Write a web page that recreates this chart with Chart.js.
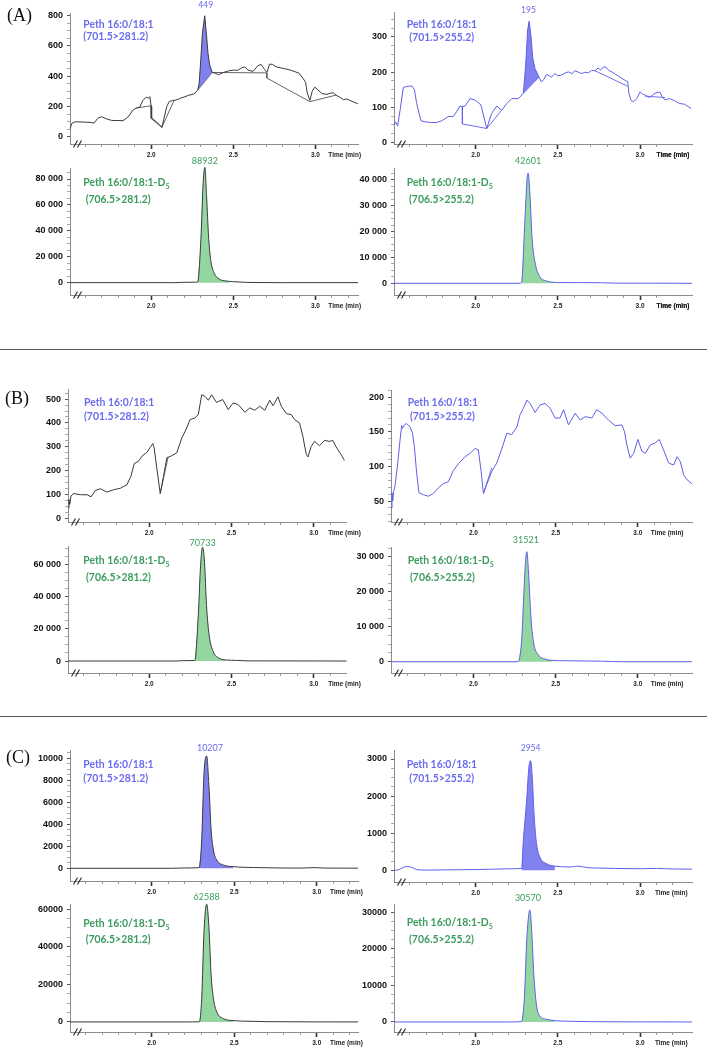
<!DOCTYPE html>
<html><head><meta charset="utf-8">
<script src="https://cdn.jsdelivr.net/npm/chart.js@4.4.0/dist/chart.umd.min.js"></script>
<style>
html,body{margin:0;padding:0;background:#fff;}
#fig{position:relative;width:709px;height:1050px;overflow:hidden;background:#fff;}
#fig canvas{position:absolute;}
.lbl{position:absolute;font-family:Lato,'Open Sans',sans-serif;font-weight:700;font-size:10.4px;white-space:nowrap;line-height:12px;height:12px;}
.lbl sub{font-size:7px;vertical-align:-3px;line-height:0;}
.tag{position:absolute;font-family:'Liberation Serif','DejaVu Serif',serif;font-size:18px;line-height:18px;color:#111;}
.sep{position:absolute;left:0;width:707px;height:0;border-top:1.5px solid #555;}
</style></head>
<body><div id="fig"></div>
<script>
// ---------- DATA (time in min, intensity in counts) ----------
// (A) 701.5>281.2
const aTL_time = [1.507,1.517,1.537,1.587,1.628,1.652,1.678,1.698,1.728,1.759,1.829,1.859,1.889,1.910,1.930,1.950,1.970,1.985,1.992,2.000,2.003,2.030,2.050,2.065,2.080,2.095,2.110,2.130,2.150,2.180,2.200,2.230,2.260,2.283,2.292,2.302,2.312,2.326,2.336,2.346,2.356,2.372,2.390,2.410,2.440,2.470,2.500,2.530,2.550,2.570,2.590,2.620,2.650,2.670,2.690,2.705,2.720,2.740,2.760,2.790,2.820,2.850,2.880,2.900,2.925,2.940,2.950,2.966,2.980,2.995,3.010,3.040,3.070,3.090,3.110,3.125,3.150,3.170,3.190,3.210,3.235,3.258];
const aTL_int  = [55,88,99,97,95,90,125,132,118,108,106,130,176,190,195,240,262,255,265,200,125,100,80,62,130,200,232,240,242,255,262,275,282,308,350,507,683,800,683,551,474,425,420,410,425,435,440,440,455,462,440,432,470,478,445,425,480,478,462,455,448,440,428,420,385,360,290,240,300,328,315,285,280,288,290,275,260,245,250,240,228,218];
const aTL_peakBase_time = [2.283,2.372];
const aTL_peakBase_int  = [308,425];
const aTL_base1_time = [1.910,2.000,2.000,2.065,2.140];
const aTL_base1_int  = [190,205,120,62,242];
const aTL_base2_time = [2.372,2.704,2.704,2.966,3.125];
const aTL_base2_int  = [425,422,388,232,275];
// (A) 701.5>255.2
const aTR_time = [1.505,1.513,1.525,1.540,1.560,1.590,1.611,1.627,1.641,1.667,1.692,1.732,1.763,1.793,1.834,1.864,1.884,1.905,1.919,1.935,1.966,1.996,2.032,2.067,2.097,2.128,2.158,2.189,2.219,2.260,2.290,2.304,2.316,2.325,2.337,2.347,2.361,2.385,2.400,2.415,2.432,2.460,2.483,2.500,2.523,2.545,2.564,2.585,2.604,2.625,2.645,2.665,2.686,2.705,2.726,2.745,2.760,2.775,2.791,2.810,2.828,2.848,2.868,2.890,2.909,2.925,2.932,2.945,2.960,2.980,3.000,3.015,3.030,3.060,3.075,3.090,3.120,3.135,3.152,3.180,3.210,3.240,3.270,3.290,3.310];
const aTR_int  = [50,59,47,92,157,160,161,151,111,62,59,57,57,62,74,74,88,104,102,104,125,121,107,40,83,104,92,111,125,125,140,220,320,345,300,240,210,186,172,180,194,186,196,190,192,198,201,196,204,200,196,200,198,205,204,212,206,214,215,205,201,195,189,182,177,173,140,120,116,125,144,138,135,128,135,140,144,130,121,125,119,111,109,103,97];
const aTR_peakBase_time = [2.290,2.385];
const aTR_peakBase_int  = [140,186];
const aTR_base1_time = [1.919,1.919,2.067,2.158];
const aTR_base1_int  = [102,53,40,92];
const aTR_base2_time = [2.726,2.925];
const aTR_base2_int  = [204,160];
const aTR_base3_time = [3.030,3.152];
const aTR_base3_int  = [132,128];
// (A) D5 internal standard
const aBL_time = [1.506,2.150,2.190,2.270,2.283,2.303,2.317,2.327,2.337,2.350,2.364,2.384,2.414,2.455,2.475,2.495,2.576,2.650,2.800,3.259];
const aBL_int  = [0,0,250,350,400,34300,78200,88932,67900,34300,16260,7200,2800,1300,1000,800,260,100,0,0];
const aBR_time = [1.503,2.270,2.279,2.299,2.313,2.319,2.329,2.343,2.360,2.390,2.430,2.470,2.500,2.650,2.760,2.850,3.316];
const aBR_int  = [0,0,200,23870,40640,42601,35480,17420,8390,2580,900,390,260,250,200,50,0];
// (B)
const bTL_time = [1.509,1.513,1.518,1.525,1.542,1.583,1.623,1.647,1.673,1.704,1.744,1.784,1.825,1.865,1.889,1.909,1.935,1.956,1.986,2.010,2.022,2.030,2.046,2.067,2.087,2.107,2.137,2.167,2.198,2.228,2.248,2.278,2.298,2.319,2.339,2.359,2.379,2.409,2.446,2.480,2.510,2.540,2.581,2.611,2.641,2.671,2.702,2.732,2.752,2.782,2.802,2.833,2.863,2.883,2.913,2.933,2.954,2.964,2.984,3.004,3.034,3.065,3.095,3.115,3.135,3.165,3.185];
const bTL_int  = [45,80,60,95,105,100,100,91,118,125,111,121,127,142,177,230,240,261,277,302,314,296,212,105,177,254,263,275,337,379,414,421,435,518,511,495,518,486,498,456,484,477,445,463,453,470,453,495,472,509,470,439,435,414,400,344,268,258,302,323,305,327,323,327,300,268,244];
const bTL_base_time = [2.067,2.115];
const bTL_base_int  = [105,258];
const bTR_time = [1.500,1.505,1.510,1.515,1.523,1.540,1.554,1.564,1.568,1.580,1.594,1.615,1.629,1.641,1.655,1.669,1.696,1.726,1.757,1.787,1.817,1.848,1.878,1.909,1.949,1.980,2.010,2.030,2.047,2.061,2.081,2.112,2.142,2.172,2.203,2.233,2.264,2.284,2.304,2.325,2.345,2.375,2.406,2.436,2.467,2.497,2.527,2.548,2.578,2.619,2.649,2.680,2.720,2.750,2.781,2.821,2.862,2.903,2.919,2.933,2.953,2.974,3.000,3.024,3.045,3.075,3.105,3.130,3.156,3.187,3.217,3.238,3.258,3.278,3.298,3.329];
const bTR_int  = [40,62,50,64,71,105,138,159,155,160,162,157,149,129,90,62,59,57,61,69,75,78,94,104,114,119,126,124,93,61,74,93,105,125,148,146,157,175,184,196,191,178,189,191,184,170,170,182,160,177,167,172,170,182,177,167,159,160,150,131,112,119,139,122,119,131,134,139,124,105,102,114,107,88,81,75];
const bTR_base_time = [2.061,2.112];
const bTR_base_int  = [61,98];
const bBL_time = [1.507,2.160,2.200,2.277,2.298,2.312,2.324,2.336,2.348,2.364,2.389,2.419,2.470,2.530,2.600,3.198];
const bBL_int  = [0,0,200,300,28450,59400,70733,61400,34640,16080,5770,2060,620,400,100,0];
const bBR_time = [1.499,2.270,2.274,2.294,2.308,2.318,2.325,2.335,2.349,2.365,2.396,2.436,2.477,2.537,2.780,2.900,3.329];
const bBR_int  = [0,0,100,6670,20950,29520,31521,25710,13330,5710,1900,760,380,290,150,0,0];
// (C)
const cTL_time = [1.505,2.120,2.200,2.287,2.303,2.317,2.333,2.347,2.360,2.374,2.394,2.434,2.495,2.657,2.900,2.990,3.050,3.250];
const cTL_int  = [0,0,30,60,2580,8640,10207,7420,3480,1670,760,300,150,60,20,60,20,10];
const cTR_time = [1.503,1.530,1.560,1.580,1.610,1.640,1.700,1.800,1.900,2.000,2.100,2.200,2.279,2.290,2.310,2.324,2.334,2.344,2.356,2.370,2.390,2.431,2.482,2.583,2.620,2.684,2.750,2.850,3.000,3.100,3.200,3.316];
const cTR_int  = [0,10,80,100,80,20,5,10,15,20,30,40,50,810,1890,2790,2954,2520,1440,720,360,180,110,90,110,70,60,50,40,50,35,30];
const cBL_time = [1.505,2.200,2.289,2.303,2.317,2.333,2.347,2.360,2.374,2.394,2.434,2.495,2.596,2.700,3.250];
const cBL_int  = [0,0,100,12500,48200,62588,50000,25000,12500,5360,1790,710,360,150,0];
const cBR_time = [1.503,2.200,2.279,2.296,2.310,2.320,2.330,2.340,2.354,2.370,2.390,2.431,2.482,2.583,2.700,3.316];
const cBR_int  = [0,0,100,6360,21800,28200,30570,25450,12730,4550,1640,730,360,180,80,0];
// peak annotations (areas)
const peakLabels = ['449','195','88932','42601','70733','31521','10207','2954','62588','30570'];
const xMajorTicks = [2.0, 2.5, 3.0];
const xMinorTicks = [1.6,1.7,1.8,1.9,2.0,2.1,2.2,2.3,2.4,2.5,2.6,2.7,2.8,2.9,3.0,3.1,3.2];
const timeLabel = 'Time (min)';

// ---------- STYLE ----------
const DARK='#3a3a3a', BLUEL='#5f5fe8', BLUEF='#8080ef', GREENF='#93d69f', BLUET='#6b6bf0', GREENT='#3c9c5e', AX='#8c8c8c';
const YW=44, XH=22, PADT=16, PADR=16;
const fig=document.getElementById('fig');
const pts=(t,v)=>t.map((x,i)=>({x:x,y:v[i]}));
const fmt=(v,s)=>{const str=String(Math.round(v));return s==='space'?str.replace(/\B(?=(\d{3})+(?!\d))/g,' '):str;};
const near=(a,b)=>Math.abs(a-b)<1e-6;

const panels=[
 {t:aTL_time,v:aTL_int,axisX:70,right:358,yTop:13,bottom:144,xMin:1.506,xMax:3.259,yMin:-48,yMax:818,major:200,minor:50,fmt:'plain',side:'L',fill:BLUEF,fillFrom:2.283,fillTo:2.372,fillBase:[aTL_peakBase_time,aTL_peakBase_int],bases:[[aTL_base1_time,aTL_base1_int],[aTL_base2_time,aTL_base2_int]],timeAt:3.178,peak:peakLabels[0],pc:BLUET,dy:10.7,dx:1,smooth:false},
 {t:aTR_time,v:aTR_int,axisX:394,right:692,yTop:11.7,bottom:144,xMin:1.503,xMax:3.316,yMin:-4,yMax:371,major:100,minor:25,fmt:'plain',side:'R',fill:BLUEF,fillFrom:2.290,fillTo:2.385,fillBase:[aTR_peakBase_time,aTR_peakBase_int],bases:[[aTR_base1_time,aTR_base1_int],[aTR_base2_time,aTR_base2_int],[aTR_base3_time,aTR_base3_int]],timeAt:3.20,peak:peakLabels[1],pc:BLUET,dy:10.7,dx:-0.7,smooth:false},
 {t:aBL_time,v:aBL_int,axisX:70,right:358,yTop:168.3,bottom:295,xMin:1.506,xMax:3.259,yMin:-9520,yMax:88500,major:20000,minor:5000,fmt:'space',side:'L',fill:GREENF,fillFrom:2.283,fillTo:2.475,timeAt:3.178,peak:peakLabels[2],pc:GREENT,dy:6.6,dx:0,smooth:true},
 {t:aBR_time,v:aBR_int,axisX:394.3,right:692,yTop:168.3,bottom:295,xMin:1.503,xMax:3.316,yMin:-4530,yMax:44520,major:10000,minor:2500,fmt:'space',side:'R',fill:GREENF,fillFrom:2.279,fillTo:2.470,timeAt:3.20,peak:peakLabels[3],pc:GREENT,dy:11.6,dx:0,smooth:true},
 {t:bTL_time,v:bTL_int,axisX:68,right:347,yTop:389.3,bottom:522.3,xMin:1.507,xMax:3.198,yMin:-14,yMax:542,major:100,minor:25,fmt:'plain',side:'L',bases:[[bTL_base_time,bTL_base_int]],timeAt:3.186,smooth:false},
 {t:bTR_time,v:bTR_int,axisX:391,right:691.7,yTop:390,bottom:522.3,xMin:1.499,xMax:3.329,yMin:19.7,yMax:210.5,major:50,minor:10,fmt:'plain',side:'R',bases:[[bTR_base_time,bTR_base_int]],timeAt:3.178,smooth:false},
 {t:bBL_time,v:bBL_int,axisX:67.7,right:347,yTop:545.7,bottom:673,xMin:1.507,xMax:3.198,yMin:-7450,yMax:71540,major:20000,minor:5000,fmt:'space',side:'L',fill:GREENF,fillFrom:2.277,fillTo:2.470,timeAt:3.186,peak:peakLabels[4],pc:GREENT,dy:4.3,dx:0,smooth:true},
 {t:bBR_time,v:bBR_int,axisX:391,right:691.7,yTop:546.7,bottom:673,xMin:1.499,xMax:3.329,yMin:-3230,yMax:32860,major:10000,minor:2500,fmt:'space',side:'R',fill:GREENF,fillFrom:2.274,fillTo:2.477,timeAt:3.178,peak:peakLabels[5],pc:GREENT,dy:12,dx:-1,smooth:true},
 {t:cTL_time,v:cTL_int,axisX:70,right:358,yTop:750,bottom:881,xMin:1.505,xMax:3.25,yMin:-1155,yMax:10755,major:2000,minor:500,fmt:'plain',side:'L',fill:BLUEF,fillFrom:2.287,fillTo:2.495,timeAt:3.18,peak:peakLabels[6],pc:BLUET,dy:8.3,dx:3.3,smooth:true},
 {t:cTR_time,v:cTR_int,axisX:394.3,right:692,yTop:750,bottom:881.7,xMin:1.503,xMax:3.316,yMin:-316,yMax:3243,major:1000,minor:250,fmt:'plain',side:'R',fill:BLUEF,fillFrom:2.279,fillTo:2.482,timeAt:3.19,peak:peakLabels[7],pc:BLUET,dy:12.3,dx:0,smooth:true},
 {t:cBL_time,v:cBL_int,axisX:70,right:358,yTop:904.3,bottom:1031.7,xMin:1.505,xMax:3.25,yMin:-5340,yMax:62670,major:20000,minor:5000,fmt:'plain',side:'L',fill:GREENF,fillFrom:2.289,fillTo:2.495,timeAt:3.18,peak:peakLabels[8],pc:GREENT,dy:7.4,dx:0,smooth:true},
 {t:cBR_time,v:cBR_int,axisX:394.3,right:692,yTop:904.3,bottom:1031.7,xMin:1.503,xMax:3.316,yMin:-2740,yMax:32190,major:10000,minor:2500,fmt:'plain',side:'R',fill:GREENF,fillFrom:2.279,fillTo:2.482,timeAt:3.19,peak:peakLabels[9],pc:GREENT,dy:12,dx:-2,smooth:true}
];

panels.forEach(p=>{
  const left=Math.round(p.axisX-YW), top=Math.round(p.yTop-PADT);
  const w=Math.round(p.right)-left+PADR, h=Math.round(p.bottom)-top+XH;
  const cv=document.createElement('canvas');
  cv.width=w; cv.height=h; cv.style.left=left+'px'; cv.style.top=top+'px'; cv.style.width=w+'px'; cv.style.height=h+'px';
  fig.appendChild(cv);
  const lineCol=p.side==='L'?DARK:BLUEL;
  const baseCol=p.side==='L'?'#555':BLUEL;
  const mode=p.smooth?'monotone':'default';
  const trace=pts(p.t,p.v);
  const ds=[{data:trace,borderColor:lineCol,borderWidth:1,pointRadius:0,fill:false,cubicInterpolationMode:mode,clip:8}];
  if(p.fill){
    const fp=trace.filter(q=>q.x>=p.fillFrom-1e-9&&q.x<=p.fillTo+1e-9);
    const fd={data:fp,borderWidth:0,borderColor:'rgba(0,0,0,0)',backgroundColor:p.fill,pointRadius:0,cubicInterpolationMode:mode,clip:8,fill:'origin'};
    ds.push(fd);
    if(p.fillBase){ ds.push({data:pts(p.fillBase[0],p.fillBase[1]),borderColor:baseCol,borderWidth:1,pointRadius:0,fill:false,clip:8}); fd.fill=2; }
  }
  (p.bases||[]).forEach(b=>ds.push({data:pts(b[0],b[1]),borderColor:baseCol,borderWidth:0.9,pointRadius:0,fill:false,clip:8}));
  let peakT=0,peakV=-Infinity; p.t.forEach((x,i)=>{if(p.v[i]>peakV){peakV=p.v[i];peakT=x;}});
  const deco={id:'deco',afterDraw(ch){
    const c=ch.ctx,a=ch.chartArea; c.save();
    c.strokeStyle='#333'; c.lineWidth=1.2;
    [3.5,7.5].forEach(d=>{c.beginPath();c.moveTo(a.left+d,a.bottom+3.5);c.lineTo(a.left+d+4,a.bottom-3.5);c.stroke();});
    if(p.peak){
      const px=ch.scales.x.getPixelForValue(peakT)+p.dx, py=ch.scales.y.getPixelForValue(peakV)-p.dy;
      c.fillStyle=p.pc; c.font=(p.peak.length>4?'9px':'8.5px')+' Lato, "Open Sans", sans-serif'; c.textAlign='center'; c.textBaseline='middle';
      c.fillText(p.peak,px,py);
    }
    c.restore();
  }};
  new Chart(cv,{type:'line',data:{datasets:ds},plugins:[deco],options:{
    responsive:false,animation:false,devicePixelRatio:1,events:[],
    layout:{padding:{left:0,top:PADT,right:PADR,bottom:0}},
    plugins:{legend:{display:false},tooltip:{enabled:false}},
    scales:{
      x:{type:'linear',min:p.xMin,max:p.xMax,
        afterBuildTicks:s=>{const arr=xMinorTicks.filter(v=>v>p.xMin&&v<p.xMax).map(v=>({value:v}));arr.push({value:p.timeAt});arr.sort((a,b)=>a.value-b.value);s.ticks=arr;},
        afterFit:s=>{s.height=XH;},
        ticks:{autoSkip:false,maxRotation:0,minRotation:0,padding:2,color:'#222',font:{family:'"Liberation Sans", Arial, sans-serif',size:6.5,weight:'bold'},
          callback:v=>near(v,p.timeAt)?timeLabel:(xMajorTicks.some(m=>near(m,v))?v.toFixed(1):'')},
        grid:{drawOnChartArea:false,drawTicks:true,tickLength:5,
          tickColor:c=>near(c.tick.value,p.timeAt)?'rgba(0,0,0,0)':(xMajorTicks.some(m=>near(m,c.tick.value))?'#333':'#999'),
          tickWidth:c=>xMajorTicks.some(m=>near(m,c.tick.value))?1.6:1,
          tickBorderDash:c=>xMajorTicks.some(m=>near(m,c.tick.value))?[]:[2,40]},
        border:{display:true,color:AX,width:1}},
      y:{min:p.yMin,max:p.yMax,
        afterBuildTicks:s=>{const arr=[];const st=Math.max(0,Math.ceil(p.yMin/p.minor))*p.minor;for(let v=st;v<=p.yMax+1e-6;v+=p.minor)arr.push({value:Math.round(v*1000)/1000});s.ticks=arr;},
        afterFit:s=>{s.width=YW;},
        ticks:{autoSkip:false,padding:4,color:'#111',font:{family:'"Liberation Sans", Arial, sans-serif',size:9,weight:'bold'},
          callback:v=>near(v/p.major,Math.round(v/p.major))?fmt(v,p.fmt):''},
        grid:{drawOnChartArea:false,drawTicks:true,tickLength:3,
          tickColor:c=>near(c.tick.value/p.major,Math.round(c.tick.value/p.major))?'#555':'#aaa'},
        border:{display:true,color:AX,width:1}}
    }}});
});

// ---------- TEXT ----------
const B1='Peth 16:0/18:1', G1='Peth 16:0/18:1-D<sub>5</sub>';
const labels=[
 [83.3,24.3,B1,BLUET],[83.3,35.7,'(701.5&gt;281.2)',BLUET],
 [406.7,24.3,B1,BLUET],[409.3,36.7,'(701.5&gt;255.2)',BLUET],
 [83.3,182.3,G1,GREENT],[85.7,199.3,'(706.5&gt;281.2)',GREENT],
 [406.7,181.7,G1,GREENT],[409,199.3,'(706.5&gt;255.2)',GREENT],
 [84,402.3,B1,BLUET],[84,416,'(701.5&gt;281.2)',BLUET],
 [407.7,402.3,B1,BLUET],[410,416,'(701.5&gt;255.2)',BLUET],
 [83.3,560,G1,GREENT],[86,576.7,'(706.5&gt;281.2)',GREENT],
 [407.7,560,G1,GREENT],[410,576.7,'(706.5&gt;255.2)',GREENT],
 [83.3,764,B1,BLUET],[83.3,778.3,'(701.5&gt;281.2)',BLUET],
 [406.7,764,B1,BLUET],[409.3,778.3,'(701.5&gt;255.2)',BLUET],
 [83.3,923.3,G1,GREENT],[85.7,939,'(706.5&gt;281.2)',GREENT],
 [406.7,922.3,G1,GREENT],[409,939,'(706.5&gt;255.2)',GREENT]
];
labels.forEach(l=>{const d=document.createElement('div');d.className='lbl';d.style.left=l[0]+'px';d.style.top=(l[1]-6)+'px';d.style.color=l[3];d.innerHTML=l[2];fig.appendChild(d);});
[['(A)',7,6],['(B)',5,388.5],['(C)',6,748]].forEach(t=>{const d=document.createElement('div');d.className='tag';d.textContent=t[0];d.style.left=t[1]+'px';d.style.top=t[2]+'px';fig.appendChild(d);});
[349,716].forEach(y=>{const d=document.createElement('div');d.className='sep';d.style.top=y+'px';fig.appendChild(d);});
</script>
</body></html>
